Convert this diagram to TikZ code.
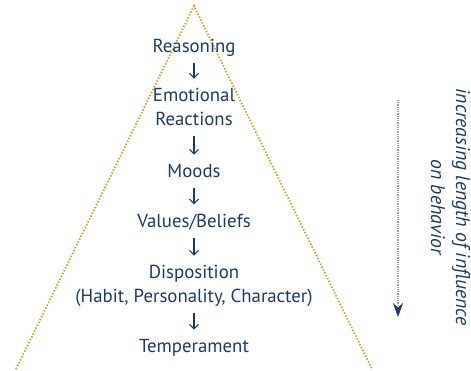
\documentclass[tikz,border=0pt]{standalone}
\usepackage{fontspec}
\setmainfont{PT Sans}
\usepackage{tikz}
\usetikzlibrary{arrows.meta}
\usetikzlibrary{positioning}
\definecolor{navy}{HTML}{1C3A66}
\definecolor{gold}{HTML}{C9A227}
\definecolor{haze}{HTML}{93A4BC}

\begin{document}
\begin{tikzpicture}[x=1pt,y=-1pt,
	stage/.style={anchor=base,align=center,inner sep=0pt,text depth=5pt,text=navy,font=\fontsize{18.8}{23.8}\selectfont},
	flow/.style={draw=navy,line width=1.1pt,-{Straight Barb[length=4.5pt,width=9pt,line width=1.1pt]},shorten <=5.5pt,shorten >=9pt},
	goldline/.style={draw=gold,line width=1.8pt,dash pattern=on 1.4pt off 1.8pt},
	]
	\useasboundingbox (0,0) rectangle (471,370);
	% pyramid outline
	\coordinate (apex) at (194,6);
	\coordinate (lft) at (16,369);
	\coordinate (rgt) at (372,369);
	\draw[goldline] (lft) -- (apex) -- (rgt);
	% stages, top to bottom (base = last line)
	\node (r) [stage] at (194,52) {Reasoning};
	\node (e) [stage] at (194,125) {Emotional\\Reactions};
	\node (m) [stage] at (194,177) {Moods};
	\node (v) [stage] at (194,227) {Values/Beliefs};
	\node (d) [stage] at (194,302) {Disposition\\(Habit, Personality, Character)};
	\node (t) [stage] at (194,352) {Temperament};
	\draw[flow] (r.south) -- (e.north);
	\draw[flow] (e.south) -- (m.north);
	\draw[flow] (m.south) -- (v.north);
	\draw[flow] (v.south) -- (d.north);
	\draw[flow] (d.south) -- (t.north);
	% side arrow
	\coordinate (s1) at (398,100);
	\coordinate (s2) at (398,317);
	\draw[draw=haze,line width=1.3pt,dash pattern=on 1pt off 0.8pt,-{Stealth[length=14pt,width=10pt,color=navy]}] (s1) -- (s2);
	\node (note) [rotate=-90,align=center,text=navy,font=\fontsize{19.7}{25}\selectfont\itshape] at (450.5,207) {increasing length of influence\\on behavior};
\end{tikzpicture}
\end{document}
